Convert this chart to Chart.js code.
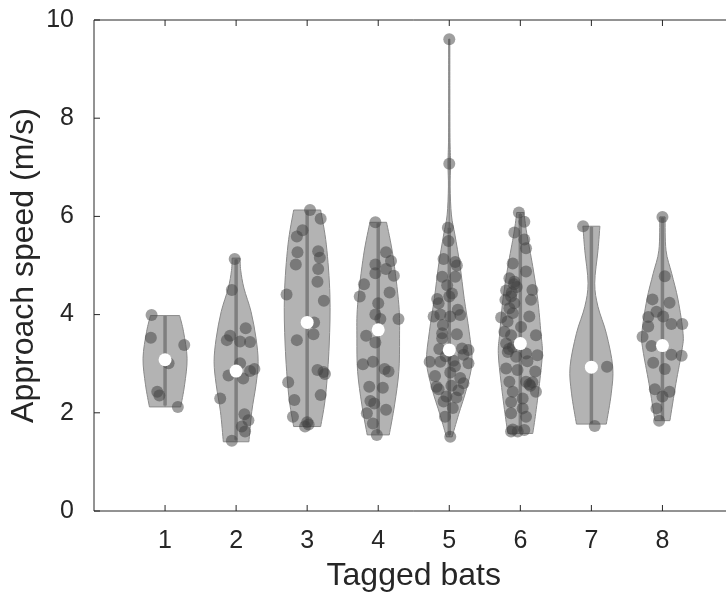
<!DOCTYPE html>
<html>
<head>
<meta charset="utf-8">
<title>Approach speed per tagged bat</title>
<script src="https://cdn.jsdelivr.net/npm/chart.js@4"></script>
<style>
  html, body { margin: 0; padding: 0; background: #fff; overflow: hidden; }
  #wrap { position: absolute; left: 0; top: 0; width: 740px; height: 598px; }
</style>
</head>
<body>
<div id="wrap"><canvas id="speedChart" width="740" height="598"></canvas></div>
<script>
// bats on the x axis
const bats = [1, 2, 3, 4, 5, 6, 7, 8];
const batLabels = ["1", "2", "3", "4", "5", "6", "7", "8"];
const speedTicks = [0, 2, 4, 6, 8, 10];

// individual approaches: [jitter offset, speed m/s]
const bat1Speeds = [[-0.19, 3.99], [-0.20, 3.53], [0.27, 3.38], [0.05, 3.01], [-0.11, 2.43], [-0.08, 2.35], [0.18, 2.12]];
const bat2Speeds = [[-0.02, 5.13], [-0.06, 4.50], [0.135, 3.72], [-0.13, 3.48], [-0.085, 3.57], [0.056, 3.45],
  [0.196, 3.44], [0.056, 3.01], [-0.107, 2.76], [0.10, 2.70], [0.196, 2.85], [0.257, 2.89], [-0.224, 2.29],
  [0.117, 1.97], [0.173, 1.85], [0.08, 1.72], [0.126, 1.62], [-0.06, 1.43]];
const bat3Speeds = [[0.04, 6.13], [0.19, 5.95], [-0.065, 5.72], [-0.145, 5.59], [-0.136, 5.27], [-0.16, 5.02],
  [0.155, 5.29], [0.178, 5.16], [0.155, 4.93], [0.145, 4.67], [-0.29, 4.41], [0.235, 4.28], [0.098, 3.84],
  [0.089, 3.60], [-0.145, 3.48], [0.145, 2.87], [0.23, 2.83], [0.25, 2.79], [-0.267, 2.62], [0.19, 2.36],
  [-0.18, 2.26], [-0.20, 1.92], [0.0, 1.81], [-0.03, 1.72], [0.02, 1.76]];
const bat4Speeds = [[-0.04, 5.88], [0.11, 5.27], [0.18, 5.09], [-0.04, 5.02], [0.11, 4.93], [-0.04, 4.84],
  [0.22, 4.79], [-0.20, 4.62], [0.16, 4.45], [-0.26, 4.37], [0.0, 4.23], [-0.04, 4.00], [0.03, 3.91],
  [0.285, 3.91], [-0.17, 3.57], [-0.04, 3.43], [-0.215, 2.99], [-0.075, 3.04], [0.09, 2.89], [0.145, 2.84],
  [-0.126, 2.53], [0.065, 2.51], [-0.11, 2.24], [-0.056, 2.19], [0.11, 2.06], [-0.16, 1.99], [-0.075, 1.78],
  [-0.02, 1.55]];
const bat5Speeds = [[0.0, 9.61], [0.0, 7.07], [-0.02, 5.77], [-0.01, 5.50], [-0.08, 5.13], [0.084, 5.07],
  [0.107, 5.00], [-0.10, 4.77], [0.084, 4.77], [0.037, 4.43], [0.0, 4.37], [-0.17, 4.32], [-0.15, 4.23],
  [-0.126, 4.00], [-0.22, 3.96], [0.154, 3.99], [0.014, 3.96], [-0.09, 3.79], [0.107, 3.60], [-0.10, 3.52],
  [-0.14, 3.30], [0.18, 3.31], [0.27, 3.28], [0.20, 3.18], [-0.276, 3.04], [-0.126, 3.04], [0.06, 3.06],
  [0.27, 3.01], [0.014, 2.82], [0.154, 2.71], [-0.18, 2.53], [-0.15, 2.48], [0.13, 2.46], [-0.04, 2.33],
  [-0.08, 2.23], [0.10, 2.31], [0.014, 1.51], [-0.05, 3.15], [0.08, 2.95], [-0.20, 2.75], [0.20, 2.60],
  [-0.10, 3.62], [0.12, 4.10], [-0.03, 4.60], [0.05, 2.10], [-0.06, 1.92], [0.03, 2.55]];
const bat6Speeds = [[-0.02, 6.08], [0.056, 5.89], [-0.084, 5.67], [0.056, 5.53], [0.08, 5.35], [-0.107, 5.04],
  [0.08, 4.88], [-0.154, 4.74], [-0.084, 4.67], [-0.05, 4.56], [0.17, 4.50], [-0.20, 4.49], [-0.13, 4.37],
  [-0.21, 4.30], [0.15, 4.30], [-0.084, 4.23], [-0.154, 4.13], [-0.107, 4.03], [-0.27, 3.94], [0.126, 3.96],
  [-0.18, 3.86], [0.01, 3.75], [-0.224, 3.65], [-0.13, 3.58], [0.22, 3.58], [-0.20, 3.41], [-0.107, 3.34],
  [-0.177, 3.24], [0.08, 3.21], [0.24, 3.17], [-0.06, 3.14], [-0.20, 2.90], [-0.04, 2.87], [0.21, 2.84],
  [0.08, 2.63], [0.126, 2.58], [-0.154, 2.63], [-0.107, 2.43], [0.22, 2.43], [0.033, 2.29], [-0.13, 2.22],
  [0.033, 2.09], [-0.13, 1.99], [0.08, 1.92], [-0.107, 1.66], [-0.037, 1.62], [0.056, 1.65], [-0.13, 1.62],
  [-0.09, 4.62], [-0.12, 4.45], [0.10, 3.05], [0.17, 2.62], [0.14, 2.55], [-0.16, 3.30]];
const bat7Speeds = [[-0.117, 5.80], [0.22, 2.94], [0.047, 1.73]];
const bat8Speeds = [[0.0, 5.99], [0.033, 4.78], [-0.14, 4.31], [0.10, 4.24], [-0.084, 4.06], [0.01, 3.96],
  [-0.20, 3.95], [0.126, 3.81], [0.28, 3.81], [-0.20, 3.76], [-0.28, 3.55], [-0.154, 3.36], [0.126, 3.18],
  [0.27, 3.16], [-0.13, 3.02], [0.033, 2.89], [-0.107, 2.48], [0.10, 2.43], [0.0, 2.33], [-0.084, 2.09],
  [-0.047, 1.84]];
const batSpeeds = [bat1Speeds, bat2Speeds, bat3Speeds, bat4Speeds, bat5Speeds, bat6Speeds, bat7Speeds, bat8Speeds];

// summary statistics per bat
const medians = [3.08, 2.85, 3.84, 3.69, 3.28, 3.41, 2.93, 3.37];
const boxLow = [2.15, 1.45, 1.75, 1.58, 1.55, 1.62, 1.78, 1.86];
const boxHigh = [3.97, 5.12, 6.12, 5.86, 5.77, 6.05, 5.79, 5.97];
const whiskerLow = [2.12, 1.43, 1.72, 1.55, 1.51, 1.58, 1.77, 1.84];
const whiskerHigh = [3.99, 5.13, 6.13, 5.88, 9.61, 6.08, 5.80, 5.99];

// kernel density outline per bat: [speed, half width]
const bat1Density = [[2.12, 0.22], [2.57, 0.275], [3.11, 0.31], [3.65, 0.26], [3.98, 0.205]];
const bat2Density = [[1.41, 0.18], [2.02, 0.22], [2.57, 0.28], [3.04, 0.31], [3.52, 0.28], [4.06, 0.21],
  [4.54, 0.11], [4.9, 0.065], [5.15, 0.056]];
const bat3Density = [[1.72, 0.19], [2.36, 0.26], [3.38, 0.31], [4.40, 0.32], [5.42, 0.27], [6.13, 0.19]];
const bat4Density = [[1.55, 0.155], [2.16, 0.23], [2.84, 0.29], [3.52, 0.30], [4.2, 0.29], [5.21, 0.206], [5.88, 0.117]];
const bat5Density = [[1.51, 0.04], [1.96, 0.13], [2.5, 0.245], [3.04, 0.32], [3.65, 0.28], [4.33, 0.21],
  [5.01, 0.15], [5.62, 0.08], [6.03, 0.03], [6.6, 0.012], [7.07, 0.018], [7.6, 0.01], [8.6, 0.008], [9.61, 0.008]];
const bat6Density = [[1.58, 0.175], [1.92, 0.21], [2.6, 0.27], [3.21, 0.31], [3.62, 0.29], [4.31, 0.245],
  [4.98, 0.175], [5.66, 0.09], [6.08, 0.05]];
const bat7Density = [[1.77, 0.21], [2.4, 0.28], [2.94, 0.30], [3.62, 0.21], [4.16, 0.093], [4.64, 0.047],
  [5.31, 0.093], [5.8, 0.12]];
const bat8Density = [[1.84, 0.105], [2.6, 0.19], [3.28, 0.275], [3.62, 0.29], [4.3, 0.22], [4.84, 0.13],
  [5.31, 0.05], [5.99, 0.037]];
const batDensity = [bat1Density, bat2Density, bat3Density, bat4Density, bat5Density, bat6Density, bat7Density, bat8Density];

const FONT = "'Liberation Sans', Arial, Helvetica, sans-serif";
const TEXT = "#262626";

// smooth curve through pixel points (Catmull-Rom as cubic beziers)
function curveThrough(ctx, pts) {
  for (let k = 0; k < pts.length - 1; k++) {
    const p0 = pts[k - 1] || pts[k], p1 = pts[k], p2 = pts[k + 1], p3 = pts[k + 2] || p2;
    ctx.bezierCurveTo(
      p1[0] + (p2[0] - p0[0]) / 6, p1[1] + (p2[1] - p0[1]) / 6,
      p2[0] - (p3[0] - p1[0]) / 6, p2[1] - (p3[1] - p1[1]) / 6,
      p2[0], p2[1]);
  }
}

const violins = {
  id: "violins",
  beforeDatasetsDraw(chart) {
    const { ctx, scales: { x, y } } = chart;
    ctx.save();
    batDensity.forEach((shape, i) => {
      const b = bats[i];
      const right = shape.map(([v, w]) => [x.getPixelForValue(b + w), y.getPixelForValue(v)]);
      const left = shape.slice().reverse().map(([v, w]) => [x.getPixelForValue(b - w), y.getPixelForValue(v)]);
      ctx.beginPath();
      ctx.moveTo(right[0][0], right[0][1]);
      curveThrough(ctx, right);
      ctx.lineTo(left[0][0], left[0][1]);
      curveThrough(ctx, left);
      ctx.closePath();
      ctx.fillStyle = "#b3b3b3";
      ctx.fill();
      ctx.strokeStyle = "#8a8a8a";
      ctx.lineWidth = 1;
      ctx.stroke();
    });
    ctx.restore();
  }
};

// axes box with inward ticks
const frame = {
  id: "frame",
  afterDraw(chart) {
    const { ctx, chartArea: a, scales: { x, y } } = chart;
    ctx.save();
    ctx.strokeStyle = TEXT;
    ctx.lineWidth = 1;
    ctx.beginPath();
    ctx.rect(a.left, a.top, a.right - a.left, a.bottom - a.top);
    bats.forEach(v => {
      const px = x.getPixelForValue(v);
      ctx.moveTo(px, a.bottom); ctx.lineTo(px, a.bottom - 6);
      ctx.moveTo(px, a.top); ctx.lineTo(px, a.top + 6);
    });
    speedTicks.forEach(v => {
      const py = y.getPixelForValue(v);
      ctx.moveTo(a.left, py); ctx.lineTo(a.left + 6, py);
      ctx.moveTo(a.right, py); ctx.lineTo(a.right - 6, py);
    });
    ctx.stroke();
    ctx.restore();
  }
};

// vertical lines per bat, null separated
function verticalSegments(lo, hi) {
  const out = [];
  bats.forEach((b, i) => {
    out.push({ x: b, y: lo[i] }, { x: b, y: hi[i] }, { x: b, y: null });
  });
  return out;
}

const pointData = [];
batSpeeds.forEach((list, i) => list.forEach(([off, v]) => pointData.push({ x: bats[i] + off, y: v })));

new Chart(document.getElementById("speedChart"), {
  type: "scatter",
  data: {
    datasets: [
      {
        label: "whisker",
        data: verticalSegments(whiskerLow, whiskerHigh),
        showLine: true, spanGaps: false,
        borderColor: "#8c8c8c", borderWidth: 1.5,
        pointRadius: 0, order: 3
      },
      {
        label: "box",
        data: verticalSegments(boxLow, boxHigh),
        showLine: true, spanGaps: false,
        borderColor: "#7f7f7f", borderWidth: 3.5,
        pointRadius: 0, order: 2
      },
      {
        label: "speeds",
        data: pointData,
        pointRadius: 6, pointHoverRadius: 6,
        pointBackgroundColor: "rgba(64,64,64,0.5)", pointBorderWidth: 0,
        order: 1
      },
      {
        label: "median",
        data: bats.map((b, i) => ({ x: b, y: medians[i] })),
        pointRadius: 6.5, pointHoverRadius: 6.5,
        pointBackgroundColor: "#ffffff", pointBorderWidth: 0,
        order: 0
      }
    ]
  },
  options: {
    responsive: false,
    devicePixelRatio: 1,
    animation: false,
    layout: { padding: { top: 20, right: 4, left: 0, bottom: 0 } },
    plugins: { legend: { display: false }, tooltip: { enabled: false } },
    scales: {
      x: {
        type: "linear", min: 0, max: 9,
        grid: { display: false }, border: { display: false },
        afterBuildTicks: s => { s.ticks = bats.map(v => ({ value: v })); },
        afterFit: s => { s.height = 87; s.paddingLeft = 0; s.paddingRight = 0; },
        ticks: {
          padding: 7, color: TEXT, font: { family: FONT, size: 25 },
          maxRotation: 0,
          callback: v => batLabels[bats.indexOf(v)]
        },
        title: {
          display: true, text: "Tagged bats", color: TEXT,
          font: { family: FONT, size: 32 }, padding: { top: 0, bottom: 3 }
        }
      },
      y: {
        type: "linear", min: 0, max: 10,
        grid: { display: false }, border: { display: false },
        afterBuildTicks: s => { s.ticks = speedTicks.map(v => ({ value: v })); },
        afterFit: s => { s.width = 94; s.paddingTop = 0; s.paddingBottom = 0; },
        ticks: { padding: 12, color: TEXT, font: { family: FONT, size: 25 } },
        title: {
          display: true, text: "Approach speed (m/s)", color: TEXT,
          font: { family: FONT, size: 32 }, padding: { top: 5, bottom: 0 }
        }
      }
    }
  },
  plugins: [violins, frame]
});
</script>
</body>
</html>
